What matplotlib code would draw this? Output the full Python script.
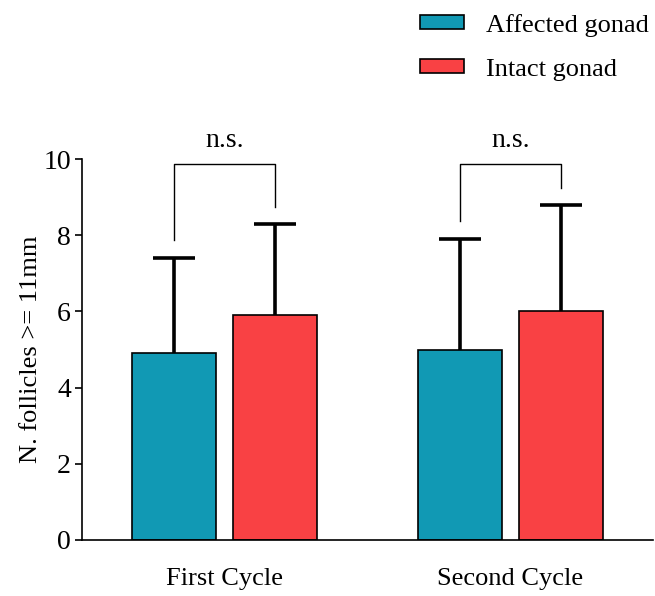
"""Bar chart of follicle counts per gonad for two cycles"""

import numpy as np
import matplotlib.pyplot as plt
from matplotlib.patches import Patch

# data
CYCLES = ['First Cycle', 'Second Cycle']
SERIES = ['Affected gonad', 'Intact gonad']
AFFECTED_MEAN = [4.9, 5.0]
AFFECTED_SD = [2.5, 2.9]
INTACT_MEAN = [5.9, 6.0]
INTACT_SD = [2.4, 2.8]
SIG_LABELS = ['n.s.', 'n.s.']

TEAL = '#1199b4'
RED = '#f94144'

plt.rcParams['font.family'] = ['Liberation Serif', 'DejaVu Serif']
plt.rcParams['font.size'] = 19

fig = plt.figure(figsize=(6.55, 5.96), dpi=100)
ax = fig.add_axes([0.125, 0.094, 0.872, 0.639])

x = np.arange(len(CYCLES))
w = 0.294
off = 0.1766
cap = 0.0735

# bars with upper-only error bars
for means, sds, shift, col in [(AFFECTED_MEAN, AFFECTED_SD, -off, TEAL),
                               (INTACT_MEAN, INTACT_SD, off, RED)]:
    means = np.array(means)
    tops = means + np.array(sds)
    ax.bar(x + shift, means, width=w, color=col, edgecolor='black', linewidth=1.2, zorder=2)
    ax.vlines(x + shift, means, tops, color='black', linewidth=2.6, zorder=3)
    ax.hlines(tops, x + shift - cap, x + shift + cap, color='black', linewidth=2.6, zorder=3)

# significance brackets
for i, lab in enumerate(SIG_LABELS):
    y_left = AFFECTED_MEAN[i] + AFFECTED_SD[i] + 0.47
    y_right = INTACT_MEAN[i] + INTACT_SD[i] + 0.45
    y_top = 9.87
    ax.plot([i - off, i - off, i + off, i + off], [y_left, y_top, y_top, y_right],
            color='black', linewidth=1.0, clip_on=False)
    ax.text(i, y_top + 0.30, lab, ha='center', va='bottom', fontsize=20, clip_on=False)

ax.set_xlim(-0.5, 1.5)
ax.set_ylim(0, 10)
ax.set_yticks([0, 2, 4, 6, 8, 10])
ax.set_xticks(x)
ax.set_xticklabels(CYCLES)
ax.tick_params(axis='x', length=0, pad=20, labelsize=19)
ax.tick_params(axis='y', length=5, width=1.2, labelsize=20, pad=3)
ax.set_ylabel('N. follicles >= 11mm', fontsize=19, labelpad=1)

for s in ['top', 'right']:
    ax.spines[s].set_visible(False)
for s in ['left', 'bottom']:
    ax.spines[s].set_linewidth(1.2)

handles = [Patch(facecolor=TEAL, edgecolor='black', linewidth=1.2, label=SERIES[0]),
           Patch(facecolor=RED, edgecolor='black', linewidth=1.2, label=SERIES[1])]
fig.legend(handles=handles, loc='upper left', bbox_to_anchor=(0.605, 1.017), frameon=False,
           fontsize=19, handlelength=1.65, handleheight=0.45, handletextpad=0.85,
           labelspacing=0.83)

fig.savefig('out.png', dpi=100)
